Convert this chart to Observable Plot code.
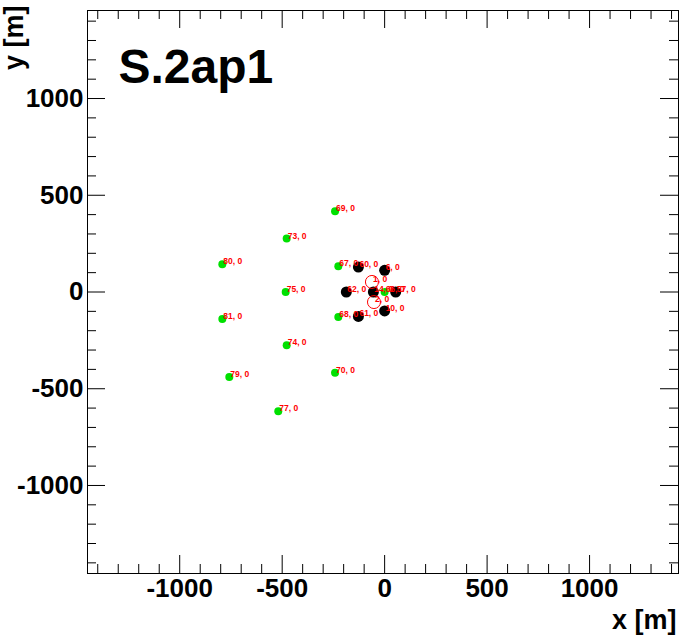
<!DOCTYPE html>
<html><head><meta charset="utf-8">
<script src="https://cdn.jsdelivr.net/npm/d3@7"></script>
<script src="https://cdn.jsdelivr.net/npm/@observablehq/plot@0.6"></script>
<style>body{margin:0;background:#fff} svg{display:block} </style>
</head><body><div id="chart"></div>
<script>
const title = "S.2ap1";
const xTitle = "x [m]";
const yTitle = "y [m]";
const majorTicks = [-1000, -500, 0, 500, 1000];
const minorTicks = [-1400, -1300, -1200, -1100, -900, -800, -700, -600, -400, -300, -200, -100,
                    100, 200, 300, 400, 600, 700, 800, 900, 1100, 1200, 1300, 1400];

// green stations
const greenX = [-242, -478, -792, -226, -483, -792, -226, -478, -758, -242, -519, 0];
const greenY = [418, 276, 143, 133, 0, -139, -129, -275, -439, -418, -616, 0];
const greenLabel = ["69, 0", "73, 0", "80, 0", "67, 0", "75, 0", "81, 0", "68, 0", "74, 0", "79, 0", "70, 0", "77, 0", "66, 0"];

// black stations
const blackX = [-128, -187, -55, 54, 0, 0, -128];
const blackY = [129, 0, 0, 0, 112, -98, -126];
const blackLabel = ["60, 0", "62, 0", "14, 0", "57, 0", "6, 0", "10, 0", "61, 0"];

// red open circles
const redX = [-62, -52];
const redY = [52, -52];
const redLabel = ["1, 0", "2, 0"];

const W = 679, H = 636;
const mL = 87, mR = 1, mT = 10, mB = 63;
const innerW = W - mL - mR, innerH = H - mT - mB;
const MAJ = 18, MIN = 9;
const font = "Liberation Sans, Arial, Helvetica, sans-serif";

const green = greenX.map((x, i) => ({x, y: greenY[i], label: greenLabel[i]}));
const black = blackX.map((x, i) => ({x, y: blackY[i], label: blackLabel[i]}));
const red = redX.map((x, i) => ({x, y: redY[i], label: redLabel[i]}));
const allLabels = [...green, ...black, ...red];

const plot = Plot.plot({
  width: W, height: H,
  marginLeft: mL, marginRight: mR, marginTop: mT, marginBottom: mB,
  x: {domain: [-1450, 1434], axis: null},
  y: {domain: [-1455, 1455], axis: null},
  style: {fontFamily: font, background: "#fff"},
  marks: [
    // ticks bottom/top
    Plot.tickX(majorTicks, {x: d => d, insetTop: innerH - MAJ, stroke: "#000"}),
    Plot.tickX(minorTicks, {x: d => d, insetTop: innerH - MIN, stroke: "#000"}),
    Plot.tickX(majorTicks, {x: d => d, insetBottom: innerH - MAJ, stroke: "#000"}),
    Plot.tickX(minorTicks, {x: d => d, insetBottom: innerH - MIN, stroke: "#000"}),
    // ticks left/right
    Plot.tickY(majorTicks, {y: d => d, insetRight: innerW - MAJ, stroke: "#000"}),
    Plot.tickY(minorTicks, {y: d => d, insetRight: innerW - MIN, stroke: "#000"}),
    Plot.tickY(majorTicks, {y: d => d, insetLeft: innerW - MAJ, stroke: "#000"}),
    Plot.tickY(minorTicks, {y: d => d, insetLeft: innerW - MIN, stroke: "#000"}),
    Plot.frame({stroke: "#000", strokeWidth: 1}),
    // tick labels
    Plot.text(majorTicks, {x: d => d, frameAnchor: "bottom", text: d => String(d), lineAnchor: "top",
      dy: 5, fontSize: 26, fontWeight: "bold", fill: "#000"}),
    Plot.text(majorTicks, {y: d => d, frameAnchor: "left", text: d => String(d), textAnchor: "end",
      dx: -4, fontSize: 26, fontWeight: "bold", fill: "#000"}),
    // axis titles
    Plot.text([xTitle], {frameAnchor: "bottom-right", text: d => d, textAnchor: "end", lineAnchor: "bottom",
      dx: -2, dy: 55, fontSize: 27, fontWeight: "bold", fill: "#000"}),
    Plot.text([yTitle], {frameAnchor: "top-left", text: d => d, textAnchor: "end", lineAnchor: "middle",
      rotate: -90, dx: -73, dy: -5, fontSize: 27, fontWeight: "bold", fill: "#000"}),
    // title
    Plot.text([title], {frameAnchor: "top-left", text: d => d, textAnchor: "start", lineAnchor: "bottom",
      dx: 31, dy: 72, fontSize: 48, fontWeight: "bold", fill: "#000"}),
    // data
    Plot.dot(green, {x: "x", y: "y", r: 4, fill: "#00e000", stroke: "none"}),
    Plot.dot(black, {x: "x", y: "y", r: 5.5, fill: "#000", stroke: "none"}),
    Plot.dot(red, {x: "x", y: "y", r: 6.5, fill: "none", stroke: "#ff0000", strokeWidth: 1}),
    Plot.text(allLabels, {x: "x", y: "y", text: "label", textAnchor: "start", lineAnchor: "bottom",
      dx: 1, fontSize: 8.5, fontWeight: "bold", fill: "#ff0000"})
  ]
});
document.getElementById("chart").appendChild(plot);
</script>
</body></html>
